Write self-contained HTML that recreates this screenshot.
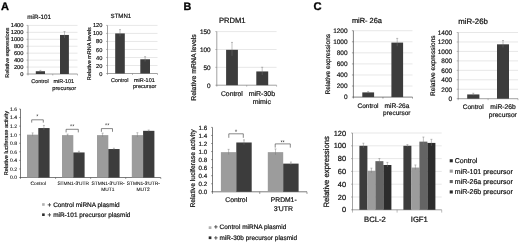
<!DOCTYPE html>
<html><head><meta charset="utf-8"><title>figure</title>
<style>
html,body{margin:0;padding:0;background:#fff;}
body{width:520px;height:243px;overflow:hidden;}
svg{display:block;filter:blur(0.4px);font-family:"Liberation Sans",sans-serif;}
text{text-rendering:geometricPrecision;stroke:#111;}
</style></head><body>
<svg width="520" height="243" viewBox="0 0 520 243">
<rect x="0" y="0" width="520" height="243" fill="#ffffff"/>
<text x="0.90" y="10.10" font-size="11.0" text-anchor="start" font-weight="bold" fill="#000" stroke-width="0.330" >A</text>
<text x="39.20" y="18.60" font-size="6.3" text-anchor="middle" font-weight="normal" fill="#111" stroke-width="0.189" >miR-101</text>
<line x1="26.50" y1="74.00" x2="28.00" y2="74.00" stroke="#7a7a7a" stroke-width="0.5"/>
<text x="23.50" y="76.07" font-size="5.75" text-anchor="end" font-weight="normal" fill="#111" stroke-width="0.172" >0</text>
<line x1="28.00" y1="67.06" x2="77.50" y2="67.06" stroke="#d6d6d6" stroke-width="0.6"/>
<line x1="26.50" y1="67.06" x2="28.00" y2="67.06" stroke="#7a7a7a" stroke-width="0.5"/>
<text x="23.50" y="69.13" font-size="5.75" text-anchor="end" font-weight="normal" fill="#111" stroke-width="0.172" >200</text>
<line x1="28.00" y1="60.11" x2="77.50" y2="60.11" stroke="#d6d6d6" stroke-width="0.6"/>
<line x1="26.50" y1="60.11" x2="28.00" y2="60.11" stroke="#7a7a7a" stroke-width="0.5"/>
<text x="23.50" y="62.18" font-size="5.75" text-anchor="end" font-weight="normal" fill="#111" stroke-width="0.172" >400</text>
<line x1="28.00" y1="53.17" x2="77.50" y2="53.17" stroke="#d6d6d6" stroke-width="0.6"/>
<line x1="26.50" y1="53.17" x2="28.00" y2="53.17" stroke="#7a7a7a" stroke-width="0.5"/>
<text x="23.50" y="55.24" font-size="5.75" text-anchor="end" font-weight="normal" fill="#111" stroke-width="0.172" >600</text>
<line x1="28.00" y1="46.23" x2="77.50" y2="46.23" stroke="#d6d6d6" stroke-width="0.6"/>
<line x1="26.50" y1="46.23" x2="28.00" y2="46.23" stroke="#7a7a7a" stroke-width="0.5"/>
<text x="23.50" y="48.30" font-size="5.75" text-anchor="end" font-weight="normal" fill="#111" stroke-width="0.172" >800</text>
<line x1="28.00" y1="39.29" x2="77.50" y2="39.29" stroke="#d6d6d6" stroke-width="0.6"/>
<line x1="26.50" y1="39.29" x2="28.00" y2="39.29" stroke="#7a7a7a" stroke-width="0.5"/>
<text x="23.50" y="41.36" font-size="5.75" text-anchor="end" font-weight="normal" fill="#111" stroke-width="0.172" >1000</text>
<line x1="28.00" y1="32.34" x2="77.50" y2="32.34" stroke="#d6d6d6" stroke-width="0.6"/>
<line x1="26.50" y1="32.34" x2="28.00" y2="32.34" stroke="#7a7a7a" stroke-width="0.5"/>
<text x="23.50" y="34.41" font-size="5.75" text-anchor="end" font-weight="normal" fill="#111" stroke-width="0.172" >1200</text>
<line x1="28.00" y1="25.40" x2="77.50" y2="25.40" stroke="#d6d6d6" stroke-width="0.6"/>
<line x1="26.50" y1="25.40" x2="28.00" y2="25.40" stroke="#7a7a7a" stroke-width="0.5"/>
<text x="23.50" y="27.47" font-size="5.75" text-anchor="end" font-weight="normal" fill="#111" stroke-width="0.172" >1400</text>
<line x1="28.00" y1="25.40" x2="28.00" y2="74.30" stroke="#7a7a7a" stroke-width="0.7"/>
<line x1="27.70" y1="74.00" x2="77.50" y2="74.00" stroke="#7a7a7a" stroke-width="0.7"/>
<line x1="28.00" y1="74.00" x2="28.00" y2="75.50" stroke="#7a7a7a" stroke-width="0.5"/>
<line x1="52.75" y1="74.00" x2="52.75" y2="75.50" stroke="#7a7a7a" stroke-width="0.5"/>
<line x1="77.50" y1="74.00" x2="77.50" y2="75.50" stroke="#7a7a7a" stroke-width="0.5"/>
<rect x="35.80" y="71.22" width="9.20" height="2.78" fill="#3c3c3c"/>
<rect x="60.00" y="34.95" width="8.90" height="39.05" fill="#3c3c3c"/>
<line x1="40.40" y1="70.42" x2="40.40" y2="72.02" stroke="#777" stroke-width="0.45"/>
<line x1="39.40" y1="70.42" x2="41.40" y2="70.42" stroke="#777" stroke-width="0.45"/>
<line x1="64.50" y1="31.55" x2="64.50" y2="37.95" stroke="#777" stroke-width="0.45"/>
<line x1="63.50" y1="31.55" x2="65.50" y2="31.55" stroke="#777" stroke-width="0.45"/>
<text transform="translate(8.50,52.60) rotate(-90)" font-size="5.46" text-anchor="middle" fill="#111" stroke-width="0.164">Relative expressions</text>
<text x="40.00" y="82.80" font-size="5.45" text-anchor="middle" font-weight="normal" fill="#111" stroke-width="0.164" >Control</text>
<text x="63.80" y="82.80" font-size="5.5" text-anchor="middle" font-weight="normal" fill="#111" stroke-width="0.165" >miR-101</text>
<text x="64.20" y="89.60" font-size="5.65" text-anchor="middle" font-weight="normal" fill="#111" stroke-width="0.170" >precursor</text>
<text x="120.90" y="18.30" font-size="6.1" text-anchor="middle" font-weight="normal" fill="#111" stroke-width="0.183" >STMN1</text>
<line x1="106.00" y1="73.50" x2="107.50" y2="73.50" stroke="#7a7a7a" stroke-width="0.5"/>
<text x="102.40" y="75.55" font-size="5.7" text-anchor="end" font-weight="normal" fill="#111" stroke-width="0.171" >0</text>
<line x1="107.50" y1="65.48" x2="157.50" y2="65.48" stroke="#d6d6d6" stroke-width="0.6"/>
<line x1="106.00" y1="65.48" x2="107.50" y2="65.48" stroke="#7a7a7a" stroke-width="0.5"/>
<text x="102.40" y="67.54" font-size="5.7" text-anchor="end" font-weight="normal" fill="#111" stroke-width="0.171" >20</text>
<line x1="107.50" y1="57.47" x2="157.50" y2="57.47" stroke="#d6d6d6" stroke-width="0.6"/>
<line x1="106.00" y1="57.47" x2="107.50" y2="57.47" stroke="#7a7a7a" stroke-width="0.5"/>
<text x="102.40" y="59.52" font-size="5.7" text-anchor="end" font-weight="normal" fill="#111" stroke-width="0.171" >40</text>
<line x1="107.50" y1="49.45" x2="157.50" y2="49.45" stroke="#d6d6d6" stroke-width="0.6"/>
<line x1="106.00" y1="49.45" x2="107.50" y2="49.45" stroke="#7a7a7a" stroke-width="0.5"/>
<text x="102.40" y="51.50" font-size="5.7" text-anchor="end" font-weight="normal" fill="#111" stroke-width="0.171" >60</text>
<line x1="107.50" y1="41.43" x2="157.50" y2="41.43" stroke="#d6d6d6" stroke-width="0.6"/>
<line x1="106.00" y1="41.43" x2="107.50" y2="41.43" stroke="#7a7a7a" stroke-width="0.5"/>
<text x="102.40" y="43.49" font-size="5.7" text-anchor="end" font-weight="normal" fill="#111" stroke-width="0.171" >80</text>
<line x1="107.50" y1="33.42" x2="157.50" y2="33.42" stroke="#d6d6d6" stroke-width="0.6"/>
<line x1="106.00" y1="33.42" x2="107.50" y2="33.42" stroke="#7a7a7a" stroke-width="0.5"/>
<text x="102.40" y="35.47" font-size="5.7" text-anchor="end" font-weight="normal" fill="#111" stroke-width="0.171" >100</text>
<line x1="107.50" y1="25.40" x2="157.50" y2="25.40" stroke="#d6d6d6" stroke-width="0.6"/>
<line x1="106.00" y1="25.40" x2="107.50" y2="25.40" stroke="#7a7a7a" stroke-width="0.5"/>
<text x="102.40" y="27.45" font-size="5.7" text-anchor="end" font-weight="normal" fill="#111" stroke-width="0.171" >120</text>
<line x1="107.50" y1="25.40" x2="107.50" y2="73.80" stroke="#7a7a7a" stroke-width="0.7"/>
<line x1="107.20" y1="73.50" x2="157.50" y2="73.50" stroke="#7a7a7a" stroke-width="0.7"/>
<line x1="107.50" y1="73.50" x2="107.50" y2="75.00" stroke="#7a7a7a" stroke-width="0.5"/>
<line x1="132.50" y1="73.50" x2="132.50" y2="75.00" stroke="#7a7a7a" stroke-width="0.5"/>
<line x1="157.50" y1="73.50" x2="157.50" y2="75.00" stroke="#7a7a7a" stroke-width="0.5"/>
<rect x="115.20" y="33.42" width="9.60" height="40.08" fill="#3c3c3c"/>
<rect x="140.30" y="59.27" width="9.70" height="14.23" fill="#3c3c3c"/>
<line x1="120.00" y1="29.62" x2="120.00" y2="36.42" stroke="#777" stroke-width="0.45"/>
<line x1="119.00" y1="29.62" x2="121.00" y2="29.62" stroke="#777" stroke-width="0.45"/>
<line x1="145.10" y1="56.67" x2="145.10" y2="61.47" stroke="#777" stroke-width="0.45"/>
<line x1="144.10" y1="56.67" x2="146.10" y2="56.67" stroke="#777" stroke-width="0.45"/>
<text transform="translate(91.00,53.70) rotate(-90)" font-size="5.52" text-anchor="middle" fill="#111" stroke-width="0.166">Relative mRNA levels</text>
<text x="119.80" y="81.90" font-size="5.45" text-anchor="middle" font-weight="normal" fill="#111" stroke-width="0.164" >Control</text>
<text x="144.40" y="81.90" font-size="5.5" text-anchor="middle" font-weight="normal" fill="#111" stroke-width="0.165" >miR-101</text>
<text x="144.70" y="88.30" font-size="5.55" text-anchor="middle" font-weight="normal" fill="#111" stroke-width="0.166" >precursor</text>
<line x1="19.00" y1="177.50" x2="20.50" y2="177.50" stroke="#444" stroke-width="0.5"/>
<text x="17.20" y="179.34" font-size="5.1" text-anchor="end" font-weight="normal" fill="#111" stroke-width="0.092" >0.0</text>
<line x1="19.00" y1="168.94" x2="20.50" y2="168.94" stroke="#444" stroke-width="0.5"/>
<text x="17.20" y="170.77" font-size="5.1" text-anchor="end" font-weight="normal" fill="#111" stroke-width="0.092" >0.2</text>
<line x1="19.00" y1="160.38" x2="20.50" y2="160.38" stroke="#444" stroke-width="0.5"/>
<text x="17.20" y="162.21" font-size="5.1" text-anchor="end" font-weight="normal" fill="#111" stroke-width="0.092" >0.4</text>
<line x1="19.00" y1="151.81" x2="20.50" y2="151.81" stroke="#444" stroke-width="0.5"/>
<text x="17.20" y="153.65" font-size="5.1" text-anchor="end" font-weight="normal" fill="#111" stroke-width="0.092" >0.6</text>
<line x1="19.00" y1="143.25" x2="20.50" y2="143.25" stroke="#444" stroke-width="0.5"/>
<text x="17.20" y="145.09" font-size="5.1" text-anchor="end" font-weight="normal" fill="#111" stroke-width="0.092" >0.8</text>
<line x1="19.00" y1="134.69" x2="20.50" y2="134.69" stroke="#444" stroke-width="0.5"/>
<text x="17.20" y="136.52" font-size="5.1" text-anchor="end" font-weight="normal" fill="#111" stroke-width="0.092" >1.0</text>
<line x1="19.00" y1="126.12" x2="20.50" y2="126.12" stroke="#444" stroke-width="0.5"/>
<text x="17.20" y="127.96" font-size="5.1" text-anchor="end" font-weight="normal" fill="#111" stroke-width="0.092" >1.2</text>
<line x1="19.00" y1="117.56" x2="20.50" y2="117.56" stroke="#444" stroke-width="0.5"/>
<text x="17.20" y="119.40" font-size="5.1" text-anchor="end" font-weight="normal" fill="#111" stroke-width="0.092" >1.4</text>
<line x1="19.00" y1="109.00" x2="20.50" y2="109.00" stroke="#444" stroke-width="0.5"/>
<text x="17.20" y="110.84" font-size="5.1" text-anchor="end" font-weight="normal" fill="#111" stroke-width="0.092" >1.6</text>
<line x1="20.50" y1="109.00" x2="20.50" y2="177.80" stroke="#444" stroke-width="0.7"/>
<line x1="20.20" y1="177.50" x2="160.80" y2="177.50" stroke="#444" stroke-width="0.7"/>
<line x1="20.50" y1="177.50" x2="20.50" y2="179.00" stroke="#444" stroke-width="0.5"/>
<line x1="55.58" y1="177.50" x2="55.58" y2="179.00" stroke="#444" stroke-width="0.5"/>
<line x1="90.65" y1="177.50" x2="90.65" y2="179.00" stroke="#444" stroke-width="0.5"/>
<line x1="125.73" y1="177.50" x2="125.73" y2="179.00" stroke="#444" stroke-width="0.5"/>
<line x1="160.80" y1="177.50" x2="160.80" y2="179.00" stroke="#444" stroke-width="0.5"/>
<rect x="27.00" y="134.69" width="11.30" height="42.81" fill="#9c9c9c"/>
<rect x="38.30" y="128.05" width="11.30" height="49.45" fill="#3c3c3c"/>
<rect x="62.00" y="135.12" width="11.30" height="42.38" fill="#9c9c9c"/>
<rect x="73.30" y="152.45" width="11.30" height="25.05" fill="#3c3c3c"/>
<rect x="97.00" y="135.12" width="11.30" height="42.38" fill="#9c9c9c"/>
<rect x="108.30" y="149.03" width="11.30" height="28.47" fill="#3c3c3c"/>
<rect x="131.80" y="135.12" width="11.30" height="42.38" fill="#9c9c9c"/>
<rect x="143.10" y="130.83" width="11.30" height="46.67" fill="#3c3c3c"/>
<line x1="32.60" y1="132.89" x2="32.60" y2="136.19" stroke="#777" stroke-width="0.45"/>
<line x1="31.60" y1="132.89" x2="33.60" y2="132.89" stroke="#777" stroke-width="0.45"/>
<line x1="43.90" y1="125.45" x2="43.90" y2="130.05" stroke="#777" stroke-width="0.45"/>
<line x1="42.90" y1="125.45" x2="44.90" y2="125.45" stroke="#777" stroke-width="0.45"/>
<line x1="67.60" y1="134.12" x2="67.60" y2="136.12" stroke="#777" stroke-width="0.45"/>
<line x1="66.60" y1="134.12" x2="68.60" y2="134.12" stroke="#777" stroke-width="0.45"/>
<line x1="78.90" y1="151.25" x2="78.90" y2="153.45" stroke="#777" stroke-width="0.45"/>
<line x1="77.90" y1="151.25" x2="79.90" y2="151.25" stroke="#777" stroke-width="0.45"/>
<line x1="102.60" y1="133.12" x2="102.60" y2="136.72" stroke="#777" stroke-width="0.45"/>
<line x1="101.60" y1="133.12" x2="103.60" y2="133.12" stroke="#777" stroke-width="0.45"/>
<line x1="113.90" y1="148.23" x2="113.90" y2="149.83" stroke="#777" stroke-width="0.45"/>
<line x1="112.90" y1="148.23" x2="114.90" y2="148.23" stroke="#777" stroke-width="0.45"/>
<line x1="137.40" y1="132.72" x2="137.40" y2="137.12" stroke="#777" stroke-width="0.45"/>
<line x1="136.40" y1="132.72" x2="138.40" y2="132.72" stroke="#777" stroke-width="0.45"/>
<line x1="148.70" y1="130.03" x2="148.70" y2="131.63" stroke="#777" stroke-width="0.45"/>
<line x1="147.70" y1="130.03" x2="149.70" y2="130.03" stroke="#777" stroke-width="0.45"/>
<path d="M31.70 122.60 V119.80 H43.30 V122.60" fill="none" stroke="#383838" stroke-width="0.6"/>
<text x="37.40" y="117.60" font-size="5.5" text-anchor="middle" font-weight="normal" fill="#2a2a2a" stroke-width="0.165" style="stroke:none">*</text>
<path d="M66.10 132.40 V129.30 H78.30 V132.40" fill="none" stroke="#383838" stroke-width="0.6"/>
<text x="72.20" y="127.60" font-size="5.5" text-anchor="middle" font-weight="normal" fill="#2a2a2a" stroke-width="0.165" style="stroke:none">**</text>
<path d="M101.40 131.80 V128.60 H112.50 V131.80" fill="none" stroke="#383838" stroke-width="0.6"/>
<text x="107.20" y="126.90" font-size="5.5" text-anchor="middle" font-weight="normal" fill="#2a2a2a" stroke-width="0.165" style="stroke:none">**</text>
<text transform="translate(7.80,143.20) rotate(-90)" font-size="5.6" text-anchor="middle" fill="#111" stroke-width="0.168">Relative luciferase activity</text>
<text x="38.30" y="185.30" font-size="4.8" text-anchor="middle" font-weight="normal" fill="#111" stroke-width="0.086" >Control</text>
<text x="73.20" y="185.30" font-size="4.85" text-anchor="middle" font-weight="normal" fill="#111" stroke-width="0.087" >STMN1-3'UTR</text>
<text x="108.10" y="185.30" font-size="4.85" text-anchor="middle" font-weight="normal" fill="#111" stroke-width="0.087" >STMN1-3'UTR-</text>
<text x="143.30" y="185.30" font-size="4.85" text-anchor="middle" font-weight="normal" fill="#111" stroke-width="0.087" >STMN1-3'UTR-</text>
<text x="107.90" y="190.80" font-size="4.85" text-anchor="middle" font-weight="normal" fill="#111" stroke-width="0.087" >MUT1</text>
<text x="143.10" y="190.80" font-size="4.85" text-anchor="middle" font-weight="normal" fill="#111" stroke-width="0.087" >MUT2</text>
<rect x="42.10" y="203.20" width="2.60" height="2.60" fill="#b0b0b0"/>
<text x="47.60" y="206.70" font-size="6.45" text-anchor="start" font-weight="normal" fill="#111" stroke-width="0.194" >+ Control miRNA plasmid</text>
<rect x="42.10" y="213.40" width="2.60" height="2.60" fill="#2c2c2c"/>
<text x="47.60" y="216.70" font-size="6.45" text-anchor="start" font-weight="normal" fill="#111" stroke-width="0.194" >+ miR-101 precursor plasmid</text>
<text x="183.50" y="9.90" font-size="10.8" text-anchor="start" font-weight="bold" fill="#000" stroke-width="0.324" >B</text>
<text x="232.30" y="23.00" font-size="7.6" text-anchor="middle" font-weight="normal" fill="#111" stroke-width="0.228" >PRDM1</text>
<line x1="215.30" y1="85.20" x2="216.80" y2="85.20" stroke="#7a7a7a" stroke-width="0.5"/>
<text x="210.60" y="87.50" font-size="6.4" text-anchor="end" font-weight="normal" fill="#111" stroke-width="0.192" >0</text>
<line x1="216.80" y1="67.33" x2="276.60" y2="67.33" stroke="#d6d6d6" stroke-width="0.6"/>
<line x1="215.30" y1="67.33" x2="216.80" y2="67.33" stroke="#7a7a7a" stroke-width="0.5"/>
<text x="210.60" y="69.64" font-size="6.4" text-anchor="end" font-weight="normal" fill="#111" stroke-width="0.192" >50</text>
<line x1="216.80" y1="49.47" x2="276.60" y2="49.47" stroke="#d6d6d6" stroke-width="0.6"/>
<line x1="215.30" y1="49.47" x2="216.80" y2="49.47" stroke="#7a7a7a" stroke-width="0.5"/>
<text x="210.60" y="51.77" font-size="6.4" text-anchor="end" font-weight="normal" fill="#111" stroke-width="0.192" >100</text>
<line x1="216.80" y1="31.60" x2="276.60" y2="31.60" stroke="#d6d6d6" stroke-width="0.6"/>
<line x1="215.30" y1="31.60" x2="216.80" y2="31.60" stroke="#7a7a7a" stroke-width="0.5"/>
<text x="210.60" y="33.90" font-size="6.4" text-anchor="end" font-weight="normal" fill="#111" stroke-width="0.192" >150</text>
<line x1="216.80" y1="31.60" x2="216.80" y2="85.50" stroke="#7a7a7a" stroke-width="0.7"/>
<line x1="216.50" y1="85.20" x2="276.60" y2="85.20" stroke="#7a7a7a" stroke-width="0.7"/>
<line x1="216.80" y1="85.20" x2="216.80" y2="86.70" stroke="#7a7a7a" stroke-width="0.5"/>
<line x1="246.70" y1="85.20" x2="246.70" y2="86.70" stroke="#7a7a7a" stroke-width="0.5"/>
<line x1="276.60" y1="85.20" x2="276.60" y2="86.70" stroke="#7a7a7a" stroke-width="0.5"/>
<rect x="226.10" y="49.82" width="11.80" height="35.38" fill="#3c3c3c"/>
<rect x="256.30" y="71.44" width="11.90" height="13.76" fill="#3c3c3c"/>
<line x1="232.00" y1="42.42" x2="232.00" y2="55.82" stroke="#777" stroke-width="0.45"/>
<line x1="231.00" y1="42.42" x2="233.00" y2="42.42" stroke="#777" stroke-width="0.45"/>
<line x1="262.20" y1="67.24" x2="262.20" y2="75.04" stroke="#777" stroke-width="0.45"/>
<line x1="261.20" y1="67.24" x2="263.20" y2="67.24" stroke="#777" stroke-width="0.45"/>
<text transform="translate(196.00,67.50) rotate(-90)" font-size="6.93" text-anchor="middle" fill="#111" stroke-width="0.208">Relative mRNA levels</text>
<text x="231.90" y="95.70" font-size="6.8" text-anchor="middle" font-weight="normal" fill="#111" stroke-width="0.204" >Control</text>
<text x="261.90" y="95.70" font-size="7.0" text-anchor="middle" font-weight="normal" fill="#111" stroke-width="0.210" >miR-30b</text>
<text x="261.80" y="104.20" font-size="7.0" text-anchor="middle" font-weight="normal" fill="#111" stroke-width="0.210" >mimic</text>
<line x1="211.00" y1="191.80" x2="212.50" y2="191.80" stroke="#444" stroke-width="0.5"/>
<text x="207.20" y="194.03" font-size="6.2" text-anchor="end" font-weight="normal" fill="#111" stroke-width="0.186" >0.0</text>
<line x1="211.00" y1="183.75" x2="212.50" y2="183.75" stroke="#444" stroke-width="0.5"/>
<text x="207.20" y="185.98" font-size="6.2" text-anchor="end" font-weight="normal" fill="#111" stroke-width="0.186" >0.2</text>
<line x1="211.00" y1="175.70" x2="212.50" y2="175.70" stroke="#444" stroke-width="0.5"/>
<text x="207.20" y="177.93" font-size="6.2" text-anchor="end" font-weight="normal" fill="#111" stroke-width="0.186" >0.4</text>
<line x1="211.00" y1="167.65" x2="212.50" y2="167.65" stroke="#444" stroke-width="0.5"/>
<text x="207.20" y="169.88" font-size="6.2" text-anchor="end" font-weight="normal" fill="#111" stroke-width="0.186" >0.6</text>
<line x1="211.00" y1="159.60" x2="212.50" y2="159.60" stroke="#444" stroke-width="0.5"/>
<text x="207.20" y="161.83" font-size="6.2" text-anchor="end" font-weight="normal" fill="#111" stroke-width="0.186" >0.8</text>
<line x1="211.00" y1="151.55" x2="212.50" y2="151.55" stroke="#444" stroke-width="0.5"/>
<text x="207.20" y="153.78" font-size="6.2" text-anchor="end" font-weight="normal" fill="#111" stroke-width="0.186" >1.0</text>
<line x1="211.00" y1="143.50" x2="212.50" y2="143.50" stroke="#444" stroke-width="0.5"/>
<text x="207.20" y="145.73" font-size="6.2" text-anchor="end" font-weight="normal" fill="#111" stroke-width="0.186" >1.2</text>
<line x1="211.00" y1="135.45" x2="212.50" y2="135.45" stroke="#444" stroke-width="0.5"/>
<text x="207.20" y="137.68" font-size="6.2" text-anchor="end" font-weight="normal" fill="#111" stroke-width="0.186" >1.4</text>
<line x1="211.00" y1="127.40" x2="212.50" y2="127.40" stroke="#444" stroke-width="0.5"/>
<text x="207.20" y="129.63" font-size="6.2" text-anchor="end" font-weight="normal" fill="#111" stroke-width="0.186" >1.6</text>
<line x1="212.50" y1="127.40" x2="212.50" y2="192.10" stroke="#444" stroke-width="0.7"/>
<line x1="212.20" y1="191.80" x2="307.00" y2="191.80" stroke="#444" stroke-width="0.7"/>
<line x1="212.50" y1="191.80" x2="212.50" y2="194.00" stroke="#444" stroke-width="0.5"/>
<line x1="259.75" y1="191.80" x2="259.75" y2="194.00" stroke="#444" stroke-width="0.5"/>
<line x1="307.00" y1="191.80" x2="307.00" y2="194.00" stroke="#444" stroke-width="0.5"/>
<rect x="220.90" y="152.15" width="15.40" height="39.65" fill="#9c9c9c"/>
<rect x="236.30" y="142.49" width="15.40" height="49.31" fill="#3c3c3c"/>
<rect x="267.80" y="152.15" width="15.40" height="39.65" fill="#9c9c9c"/>
<rect x="283.20" y="163.62" width="15.40" height="28.18" fill="#3c3c3c"/>
<line x1="228.60" y1="149.35" x2="228.60" y2="154.55" stroke="#777" stroke-width="0.45"/>
<line x1="227.60" y1="149.35" x2="229.60" y2="149.35" stroke="#777" stroke-width="0.45"/>
<line x1="244.00" y1="139.89" x2="244.00" y2="144.69" stroke="#777" stroke-width="0.45"/>
<line x1="243.00" y1="139.89" x2="245.00" y2="139.89" stroke="#777" stroke-width="0.45"/>
<line x1="275.50" y1="148.95" x2="275.50" y2="154.75" stroke="#777" stroke-width="0.45"/>
<line x1="274.50" y1="148.95" x2="276.50" y2="148.95" stroke="#777" stroke-width="0.45"/>
<line x1="290.90" y1="162.03" x2="290.90" y2="165.03" stroke="#777" stroke-width="0.45"/>
<line x1="289.90" y1="162.03" x2="291.90" y2="162.03" stroke="#777" stroke-width="0.45"/>
<path d="M228.80 137.80 V133.80 H243.30 V137.80" fill="none" stroke="#383838" stroke-width="0.6"/>
<text x="235.90" y="133.60" font-size="6.5" text-anchor="middle" font-weight="normal" fill="#2a2a2a" stroke-width="0.195" style="stroke:none">*</text>
<path d="M275.20 147.60 V143.90 H290.30 V147.60" fill="none" stroke="#383838" stroke-width="0.6"/>
<text x="282.60" y="143.60" font-size="5.5" text-anchor="middle" font-weight="normal" fill="#2a2a2a" stroke-width="0.165" style="stroke:none">**</text>
<text transform="translate(194.80,168.50) rotate(-90)" font-size="6.8" text-anchor="middle" fill="#111" stroke-width="0.204">Relative luciferase activity</text>
<text x="236.20" y="202.30" font-size="6.8" text-anchor="middle" font-weight="normal" fill="#111" stroke-width="0.204" >Control</text>
<text x="283.70" y="202.20" font-size="6.75" text-anchor="middle" font-weight="normal" fill="#111" stroke-width="0.202" >PRDM1-</text>
<text x="283.30" y="210.50" font-size="6.9" text-anchor="middle" font-weight="normal" fill="#111" stroke-width="0.207" >3'UTR</text>
<rect x="208.70" y="226.30" width="2.70" height="2.70" fill="#b0b0b0"/>
<text x="214.00" y="229.20" font-size="6.46" text-anchor="start" font-weight="normal" fill="#111" stroke-width="0.194" >+ Control miRNA plasmid</text>
<rect x="208.70" y="236.40" width="2.70" height="2.70" fill="#2c2c2c"/>
<text x="214.00" y="239.50" font-size="6.46" text-anchor="start" font-weight="normal" fill="#111" stroke-width="0.194" >+ miR-30b precursor plasmid</text>
<text x="313.40" y="10.30" font-size="11.2" text-anchor="start" font-weight="bold" fill="#000" stroke-width="0.336" >C</text>
<text x="366.90" y="22.70" font-size="7.4" text-anchor="middle" font-weight="normal" fill="#111" stroke-width="0.222" >miR- 26a</text>
<line x1="351.90" y1="97.10" x2="353.40" y2="97.10" stroke="#4a4a4a" stroke-width="0.5"/>
<text x="347.60" y="99.44" font-size="6.5" text-anchor="end" font-weight="normal" fill="#111" stroke-width="0.195" >0</text>
<line x1="353.40" y1="86.03" x2="412.50" y2="86.03" stroke="#d6d6d6" stroke-width="0.6"/>
<line x1="351.90" y1="86.03" x2="353.40" y2="86.03" stroke="#4a4a4a" stroke-width="0.5"/>
<text x="347.60" y="88.37" font-size="6.5" text-anchor="end" font-weight="normal" fill="#111" stroke-width="0.195" >200</text>
<line x1="353.40" y1="74.97" x2="412.50" y2="74.97" stroke="#d6d6d6" stroke-width="0.6"/>
<line x1="351.90" y1="74.97" x2="353.40" y2="74.97" stroke="#4a4a4a" stroke-width="0.5"/>
<text x="347.60" y="77.31" font-size="6.5" text-anchor="end" font-weight="normal" fill="#111" stroke-width="0.195" >400</text>
<line x1="353.40" y1="63.90" x2="412.50" y2="63.90" stroke="#d6d6d6" stroke-width="0.6"/>
<line x1="351.90" y1="63.90" x2="353.40" y2="63.90" stroke="#4a4a4a" stroke-width="0.5"/>
<text x="347.60" y="66.24" font-size="6.5" text-anchor="end" font-weight="normal" fill="#111" stroke-width="0.195" >600</text>
<line x1="353.40" y1="52.83" x2="412.50" y2="52.83" stroke="#d6d6d6" stroke-width="0.6"/>
<line x1="351.90" y1="52.83" x2="353.40" y2="52.83" stroke="#4a4a4a" stroke-width="0.5"/>
<text x="347.60" y="55.17" font-size="6.5" text-anchor="end" font-weight="normal" fill="#111" stroke-width="0.195" >800</text>
<line x1="353.40" y1="41.77" x2="412.50" y2="41.77" stroke="#d6d6d6" stroke-width="0.6"/>
<line x1="351.90" y1="41.77" x2="353.40" y2="41.77" stroke="#4a4a4a" stroke-width="0.5"/>
<text x="347.60" y="44.11" font-size="6.5" text-anchor="end" font-weight="normal" fill="#111" stroke-width="0.195" >1000</text>
<line x1="353.40" y1="30.70" x2="412.50" y2="30.70" stroke="#d6d6d6" stroke-width="0.6"/>
<line x1="351.90" y1="30.70" x2="353.40" y2="30.70" stroke="#4a4a4a" stroke-width="0.5"/>
<text x="347.60" y="33.04" font-size="6.5" text-anchor="end" font-weight="normal" fill="#111" stroke-width="0.195" >1200</text>
<line x1="353.40" y1="30.70" x2="353.40" y2="97.40" stroke="#4a4a4a" stroke-width="0.7"/>
<line x1="353.10" y1="97.10" x2="412.50" y2="97.10" stroke="#4a4a4a" stroke-width="0.7"/>
<line x1="353.40" y1="97.10" x2="353.40" y2="98.60" stroke="#4a4a4a" stroke-width="0.5"/>
<line x1="382.95" y1="97.10" x2="382.95" y2="98.60" stroke="#4a4a4a" stroke-width="0.5"/>
<line x1="412.50" y1="97.10" x2="412.50" y2="98.60" stroke="#4a4a4a" stroke-width="0.5"/>
<rect x="362.30" y="92.40" width="11.80" height="4.70" fill="#3c3c3c"/>
<rect x="391.40" y="42.60" width="11.70" height="54.50" fill="#3c3c3c"/>
<line x1="368.20" y1="91.60" x2="368.20" y2="93.20" stroke="#777" stroke-width="0.45"/>
<line x1="367.20" y1="91.60" x2="369.20" y2="91.60" stroke="#777" stroke-width="0.45"/>
<line x1="397.20" y1="38.40" x2="397.20" y2="46.20" stroke="#777" stroke-width="0.45"/>
<line x1="396.20" y1="38.40" x2="398.20" y2="38.40" stroke="#777" stroke-width="0.45"/>
<text transform="translate(329.80,64.20) rotate(-90)" font-size="6.57" text-anchor="middle" fill="#111" stroke-width="0.197">Relative expressions</text>
<text x="368.00" y="107.70" font-size="6.55" text-anchor="middle" font-weight="normal" fill="#111" stroke-width="0.196" >Control</text>
<text x="397.00" y="107.70" font-size="6.6" text-anchor="middle" font-weight="normal" fill="#111" stroke-width="0.198" >miR-26a</text>
<text x="396.80" y="115.10" font-size="6.5" text-anchor="middle" font-weight="normal" fill="#111" stroke-width="0.195" >precursor</text>
<text x="473.10" y="24.20" font-size="7.8" text-anchor="middle" font-weight="normal" fill="#111" stroke-width="0.234" >miR-26b</text>
<line x1="456.70" y1="98.70" x2="458.20" y2="98.70" stroke="#7a7a7a" stroke-width="0.5"/>
<text x="452.20" y="101.04" font-size="6.5" text-anchor="end" font-weight="normal" fill="#111" stroke-width="0.195" >0</text>
<line x1="458.20" y1="89.24" x2="518.00" y2="89.24" stroke="#d6d6d6" stroke-width="0.6"/>
<line x1="456.70" y1="89.24" x2="458.20" y2="89.24" stroke="#7a7a7a" stroke-width="0.5"/>
<text x="452.20" y="91.58" font-size="6.5" text-anchor="end" font-weight="normal" fill="#111" stroke-width="0.195" >200</text>
<line x1="458.20" y1="79.79" x2="518.00" y2="79.79" stroke="#d6d6d6" stroke-width="0.6"/>
<line x1="456.70" y1="79.79" x2="458.20" y2="79.79" stroke="#7a7a7a" stroke-width="0.5"/>
<text x="452.20" y="82.13" font-size="6.5" text-anchor="end" font-weight="normal" fill="#111" stroke-width="0.195" >400</text>
<line x1="458.20" y1="70.33" x2="518.00" y2="70.33" stroke="#d6d6d6" stroke-width="0.6"/>
<line x1="456.70" y1="70.33" x2="458.20" y2="70.33" stroke="#7a7a7a" stroke-width="0.5"/>
<text x="452.20" y="72.67" font-size="6.5" text-anchor="end" font-weight="normal" fill="#111" stroke-width="0.195" >600</text>
<line x1="458.20" y1="60.87" x2="518.00" y2="60.87" stroke="#d6d6d6" stroke-width="0.6"/>
<line x1="456.70" y1="60.87" x2="458.20" y2="60.87" stroke="#7a7a7a" stroke-width="0.5"/>
<text x="452.20" y="63.21" font-size="6.5" text-anchor="end" font-weight="normal" fill="#111" stroke-width="0.195" >800</text>
<line x1="458.20" y1="51.41" x2="518.00" y2="51.41" stroke="#d6d6d6" stroke-width="0.6"/>
<line x1="456.70" y1="51.41" x2="458.20" y2="51.41" stroke="#7a7a7a" stroke-width="0.5"/>
<text x="452.20" y="53.75" font-size="6.5" text-anchor="end" font-weight="normal" fill="#111" stroke-width="0.195" >1000</text>
<line x1="458.20" y1="41.96" x2="518.00" y2="41.96" stroke="#d6d6d6" stroke-width="0.6"/>
<line x1="456.70" y1="41.96" x2="458.20" y2="41.96" stroke="#7a7a7a" stroke-width="0.5"/>
<text x="452.20" y="44.30" font-size="6.5" text-anchor="end" font-weight="normal" fill="#111" stroke-width="0.195" >1200</text>
<line x1="458.20" y1="32.50" x2="518.00" y2="32.50" stroke="#d6d6d6" stroke-width="0.6"/>
<line x1="456.70" y1="32.50" x2="458.20" y2="32.50" stroke="#7a7a7a" stroke-width="0.5"/>
<text x="452.20" y="34.84" font-size="6.5" text-anchor="end" font-weight="normal" fill="#111" stroke-width="0.195" >1400</text>
<line x1="458.20" y1="32.50" x2="458.20" y2="99.00" stroke="#7a7a7a" stroke-width="0.7"/>
<line x1="457.90" y1="98.70" x2="518.00" y2="98.70" stroke="#7a7a7a" stroke-width="0.7"/>
<line x1="458.20" y1="98.70" x2="458.20" y2="100.20" stroke="#7a7a7a" stroke-width="0.5"/>
<line x1="488.10" y1="98.70" x2="488.10" y2="100.20" stroke="#7a7a7a" stroke-width="0.5"/>
<line x1="518.00" y1="98.70" x2="518.00" y2="100.20" stroke="#7a7a7a" stroke-width="0.5"/>
<rect x="467.20" y="94.44" width="12.20" height="4.26" fill="#3c3c3c"/>
<rect x="497.00" y="44.32" width="12.00" height="54.38" fill="#3c3c3c"/>
<line x1="473.30" y1="93.24" x2="473.30" y2="95.44" stroke="#777" stroke-width="0.45"/>
<line x1="472.30" y1="93.24" x2="474.30" y2="93.24" stroke="#777" stroke-width="0.45"/>
<line x1="503.00" y1="40.52" x2="503.00" y2="47.52" stroke="#777" stroke-width="0.45"/>
<line x1="502.00" y1="40.52" x2="504.00" y2="40.52" stroke="#777" stroke-width="0.45"/>
<text transform="translate(434.80,65.70) rotate(-90)" font-size="6.57" text-anchor="middle" fill="#111" stroke-width="0.197">Relative expressions</text>
<text x="473.20" y="109.30" font-size="6.5" text-anchor="middle" font-weight="normal" fill="#111" stroke-width="0.195" >Control</text>
<text x="503.00" y="109.30" font-size="6.7" text-anchor="middle" font-weight="normal" fill="#111" stroke-width="0.201" >miR-26b</text>
<text x="502.80" y="116.70" font-size="6.65" text-anchor="middle" font-weight="normal" fill="#111" stroke-width="0.200" >precursor</text>
<line x1="351.00" y1="209.80" x2="352.50" y2="209.80" stroke="#7a7a7a" stroke-width="0.5"/>
<text x="346.10" y="212.46" font-size="7.4" text-anchor="end" font-weight="normal" fill="#111" stroke-width="0.222" >0</text>
<line x1="352.50" y1="197.00" x2="441.70" y2="197.00" stroke="#d6d6d6" stroke-width="0.6"/>
<line x1="351.00" y1="197.00" x2="352.50" y2="197.00" stroke="#7a7a7a" stroke-width="0.5"/>
<text x="346.10" y="199.66" font-size="7.4" text-anchor="end" font-weight="normal" fill="#111" stroke-width="0.222" >20</text>
<line x1="352.50" y1="184.20" x2="441.70" y2="184.20" stroke="#d6d6d6" stroke-width="0.6"/>
<line x1="351.00" y1="184.20" x2="352.50" y2="184.20" stroke="#7a7a7a" stroke-width="0.5"/>
<text x="346.10" y="186.86" font-size="7.4" text-anchor="end" font-weight="normal" fill="#111" stroke-width="0.222" >40</text>
<line x1="352.50" y1="171.40" x2="441.70" y2="171.40" stroke="#d6d6d6" stroke-width="0.6"/>
<line x1="351.00" y1="171.40" x2="352.50" y2="171.40" stroke="#7a7a7a" stroke-width="0.5"/>
<text x="346.10" y="174.06" font-size="7.4" text-anchor="end" font-weight="normal" fill="#111" stroke-width="0.222" >60</text>
<line x1="352.50" y1="158.60" x2="441.70" y2="158.60" stroke="#d6d6d6" stroke-width="0.6"/>
<line x1="351.00" y1="158.60" x2="352.50" y2="158.60" stroke="#7a7a7a" stroke-width="0.5"/>
<text x="346.10" y="161.26" font-size="7.4" text-anchor="end" font-weight="normal" fill="#111" stroke-width="0.222" >80</text>
<line x1="352.50" y1="145.80" x2="441.70" y2="145.80" stroke="#d6d6d6" stroke-width="0.6"/>
<line x1="351.00" y1="145.80" x2="352.50" y2="145.80" stroke="#7a7a7a" stroke-width="0.5"/>
<text x="346.10" y="148.46" font-size="7.4" text-anchor="end" font-weight="normal" fill="#111" stroke-width="0.222" >100</text>
<line x1="352.50" y1="133.00" x2="441.70" y2="133.00" stroke="#d6d6d6" stroke-width="0.6"/>
<line x1="351.00" y1="133.00" x2="352.50" y2="133.00" stroke="#7a7a7a" stroke-width="0.5"/>
<text x="346.10" y="135.66" font-size="7.4" text-anchor="end" font-weight="normal" fill="#111" stroke-width="0.222" >120</text>
<line x1="352.50" y1="133.00" x2="352.50" y2="210.10" stroke="#7a7a7a" stroke-width="0.7"/>
<line x1="352.20" y1="209.80" x2="441.70" y2="209.80" stroke="#7a7a7a" stroke-width="0.7"/>
<line x1="352.50" y1="209.80" x2="352.50" y2="212.60" stroke="#7a7a7a" stroke-width="0.5"/>
<line x1="397.10" y1="209.80" x2="397.10" y2="212.60" stroke="#7a7a7a" stroke-width="0.5"/>
<line x1="441.70" y1="209.80" x2="441.70" y2="212.60" stroke="#7a7a7a" stroke-width="0.5"/>
<rect x="359.40" y="145.80" width="8.00" height="64.00" fill="#3c3c3c"/>
<line x1="363.40" y1="143.20" x2="363.40" y2="147.88" stroke="#777" stroke-width="0.45"/>
<line x1="362.40" y1="143.20" x2="364.40" y2="143.20" stroke="#777" stroke-width="0.45"/>
<rect x="367.40" y="170.76" width="8.00" height="39.04" fill="#9c9c9c"/>
<line x1="371.40" y1="168.16" x2="371.40" y2="172.84" stroke="#777" stroke-width="0.45"/>
<line x1="370.40" y1="168.16" x2="372.40" y2="168.16" stroke="#777" stroke-width="0.45"/>
<rect x="375.40" y="161.16" width="8.00" height="48.64" fill="#646464"/>
<line x1="379.40" y1="158.56" x2="379.40" y2="163.24" stroke="#777" stroke-width="0.45"/>
<line x1="378.40" y1="158.56" x2="380.40" y2="158.56" stroke="#777" stroke-width="0.45"/>
<rect x="383.40" y="165.00" width="8.00" height="44.80" fill="#2c2c2c"/>
<line x1="387.40" y1="162.40" x2="387.40" y2="167.08" stroke="#777" stroke-width="0.45"/>
<line x1="386.40" y1="162.40" x2="388.40" y2="162.40" stroke="#777" stroke-width="0.45"/>
<rect x="403.40" y="145.80" width="8.00" height="64.00" fill="#3c3c3c"/>
<line x1="407.40" y1="144.60" x2="407.40" y2="146.76" stroke="#777" stroke-width="0.45"/>
<line x1="406.40" y1="144.60" x2="408.40" y2="144.60" stroke="#777" stroke-width="0.45"/>
<rect x="411.40" y="167.56" width="8.00" height="42.24" fill="#9c9c9c"/>
<line x1="415.40" y1="164.96" x2="415.40" y2="169.64" stroke="#777" stroke-width="0.45"/>
<line x1="414.40" y1="164.96" x2="416.40" y2="164.96" stroke="#777" stroke-width="0.45"/>
<rect x="419.40" y="141.64" width="8.00" height="68.16" fill="#646464"/>
<line x1="423.40" y1="137.04" x2="423.40" y2="145.32" stroke="#777" stroke-width="0.45"/>
<line x1="422.40" y1="137.04" x2="424.40" y2="137.04" stroke="#777" stroke-width="0.45"/>
<rect x="427.40" y="142.92" width="8.00" height="66.88" fill="#2c2c2c"/>
<line x1="431.40" y1="139.32" x2="431.40" y2="145.80" stroke="#777" stroke-width="0.45"/>
<line x1="430.40" y1="139.32" x2="432.40" y2="139.32" stroke="#777" stroke-width="0.45"/>
<text transform="translate(329.20,171.85) rotate(-90)" font-size="7.75" text-anchor="middle" fill="#111" stroke-width="0.232">Relative expressions</text>
<text x="375.00" y="221.60" font-size="7.7" text-anchor="middle" font-weight="normal" fill="#111" stroke-width="0.231" >BCL-2</text>
<text x="419.30" y="221.60" font-size="7.7" text-anchor="middle" font-weight="normal" fill="#111" stroke-width="0.231" >IGF1</text>
<rect x="449.70" y="159.20" width="3.10" height="3.10" fill="#2c2c2c"/>
<text x="454.80" y="163.20" font-size="7.0" text-anchor="start" font-weight="normal" fill="#111" stroke-width="0.210" >Control</text>
<rect x="449.70" y="169.60" width="3.10" height="3.10" fill="#9c9c9c"/>
<text x="454.80" y="173.60" font-size="7.0" text-anchor="start" font-weight="normal" fill="#111" stroke-width="0.210" >miR-101 precursor</text>
<rect x="449.70" y="180.00" width="3.10" height="3.10" fill="#646464"/>
<text x="454.80" y="184.00" font-size="7.0" text-anchor="start" font-weight="normal" fill="#111" stroke-width="0.210" >miR-26a precursor</text>
<rect x="449.70" y="190.40" width="3.10" height="3.10" fill="#2c2c2c"/>
<text x="454.80" y="194.40" font-size="7.0" text-anchor="start" font-weight="normal" fill="#111" stroke-width="0.210" >miR-26b precursor</text>
</svg>
</body></html>
